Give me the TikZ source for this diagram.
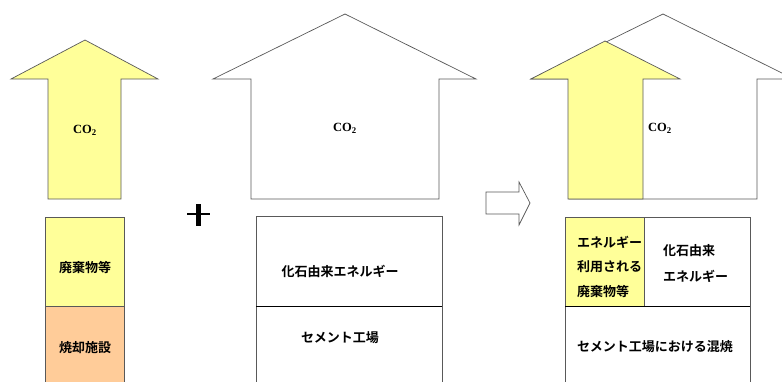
\documentclass[tikz,border=0pt]{standalone}
\usepackage{fontspec}
\setmainfont{Liberation Serif}
\newfontfamily\jp{Noto Sans CJK JP}[BoldFont={* Bold}]
\tikzset{
  outl/.style={draw=black!65, line width=0.7pt, line join=miter},
  yel/.style={outl, fill={rgb,255:red,255;green,255;blue,153}},
  peach/.style={outl, fill={rgb,255:red,255;green,204;blue,153}},
  jlab/.style={font=\jp\bfseries\fontsize{13}{15}\selectfont, inner sep=0pt},
  colab/.style={font=\bfseries\fontsize{12.5}{14}\selectfont, inner sep=0pt}
}
\begin{document}
\begin{tikzpicture}[x=1pt,y=-1pt]
\useasboundingbox (0,0) rectangle (782,381);
\clip (0,0) rectangle (782,381);
% left arrow
\draw[yel] (48,199) -- (48,79) -- (11,79) -- (85,40) -- (158,79) -- (121,79) -- (121,199) -- cycle;
\node[colab] (co1) at (85,130) {CO\textsubscript{2}};
% left boxes
\draw[yel] (45,217) rectangle (124,306);
\draw[peach] (45,306) rectangle (124,392);
\node[jlab] (w1) at (85,268) {廃棄物等};
\node[jlab] (inc) at (85,348) {焼却施設};
% plus
\draw[line width=1.6pt] (187,214) -- (210,214);
\draw[line width=5pt] (198,204) -- (198,226);
% middle house
\draw[outl, fill=white] (251,199) -- (251,79) -- (213,79) -- (345,14) -- (476,79) -- (439,79) -- (439,199) -- cycle;
\node[colab] (co2) at (345,128) {CO\textsubscript{2}};
% middle box
\draw[outl] (256,216) rectangle (442,392);
\draw[black, line width=0.7pt] (256,306) -- (442,306);
\node[jlab] (fe1) at (340,271) {化石由来エネルギー};
\node[jlab] (cem1) at (340,338) {セメント工場};
% small arrow
\draw[outl, fill=white] (486,192) -- (519,192) -- (519,182) -- (530,203) -- (519,225) -- (519,214) -- (486,214) -- cycle;
% right house
\draw[outl, fill=white] (569,199) -- (569,79) -- (531,79) -- (663,14) -- (794,79) -- (757,79) -- (757,199) -- cycle;
% yellow arrow on top
\draw[yel] (568,199) -- (568,79) -- (531,79) -- (605,41) -- (680,79) -- (643,79) -- (643,199) -- cycle;
\node[colab] (co3) at (660,128) {CO\textsubscript{2}};
% right boxes
\draw[outl] (565,217) rectangle (750,392);
\draw[yel] (565,217) rectangle (644,306);
\draw[black, line width=0.7pt] (565,306) -- (750,306);
\node[jlab, anchor=west] (r1) at (577,242) {エネルギー};
\node[jlab, anchor=west] (r2) at (577,267) {利用される};
\node[jlab, anchor=west] (r3) at (577,292) {廃棄物等};
\node[jlab, anchor=west] (r4) at (663,251) {化石由来};
\node[jlab, anchor=west] (r5) at (663,276) {エネルギー};
\node[jlab] (r6) at (655,347) {セメント工場における混焼};
\end{tikzpicture}
\end{document}
